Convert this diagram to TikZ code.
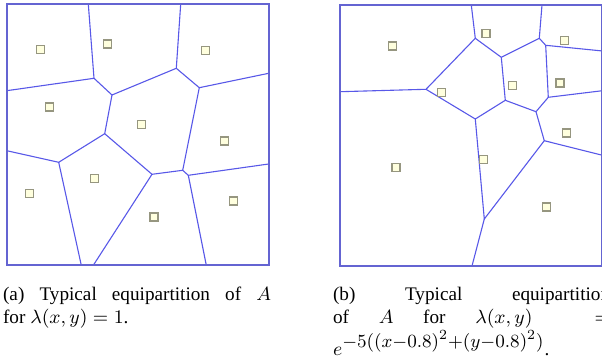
\RequirePackage{fix-cm}
\documentclass[tikz,border=0pt]{standalone}
\usepackage{amsmath}
\usepackage{fontspec}
\setmainfont{Liberation Serif}
\DeclareMathSizes{9.6}{9.6}{9.3}{7}
\definecolor{edgeBlue}{RGB}{88,88,232}
\definecolor{frameBlue}{RGB}{100,100,210}
\definecolor{siteFill}{RGB}{255,255,222}
\definecolor{siteLine}{RGB}{150,150,128}
\tikzset{
  frame/.style={draw=frameBlue, line width=1pt},
  cell/.style={draw=edgeBlue, line width=0.55pt},
  site/.style={rectangle, draw=siteLine, fill=siteFill, line width=0.6pt, minimum size=4pt, inner sep=0pt},
  capt/.style={align=justify, inner sep=0pt, anchor=base west, font=\fontsize{9.6}{11.3}\selectfont}
}

\begin{document}
\begin{tikzpicture}[x=0.5pt, y=-0.5pt]
  \useasboundingbox (0,0) rectangle (602,358);

  % (a) uniform density
  \coordinate (at1) at (88.3,4);   \coordinate (at2) at (180.7,4);
  \coordinate (al1) at (6.7,90.7); \coordinate (al2) at (6.7,150.7);
  \coordinate (ar1) at (268.7,73.3); \coordinate (ar2) at (268.7,164);
  \coordinate (ab1) at (81.3,265.3); \coordinate (ab2) at (93.3,265.3); \coordinate (ab3) at (206.3,265.3);
  \coordinate (a1) at (94,78.3);    \coordinate (a2) at (112,95);
  \coordinate (a3) at (176.3,68.3); \coordinate (a4) at (199.3,87.7);
  \coordinate (a5) at (104.7,133.7); \coordinate (a6) at (58.7,162.3);
  \coordinate (a7) at (152,174.3);  \coordinate (a8) at (182.7,170.3);
  \coordinate (a9) at (188.3,175.3);
  \draw[cell] (at1) -- (a1) -- (al1);
  \draw[cell] (a1) -- (a2) -- (a3) -- (at2);
  \draw[cell] (a3) -- (a4) -- (ar1);
  \draw[cell] (a2) -- (a5) -- (a6) -- (al2);
  \draw[cell] (a6) -- (ab1);
  \draw[cell] (a5) -- (a7) -- (a8) -- (a9) -- (ar2);
  \draw[cell] (a4) -- (a8);
  \draw[cell] (a7) -- (ab2);
  \draw[cell] (a9) -- (ab3);
  \draw[frame] (6.7,4) rectangle (268.7,265.3);
  \foreach \x/\y [count=\i] in {40.7/49.3, 107.7/44, 205.7/50.3, 49.3/107, 141.3/124.3,
      224.3/141, 94.7/178.3, 29.3/193.3, 154/217, 233.3/201}
    \node[site] (sa\i) at (\x,\y) {};

  % (b) density peaked at (0.8,0.8)
  \coordinate (bt1) at (471.3,5);  \coordinate (bt2) at (542,5);
  \coordinate (bl1) at (340.3,91.7);
  \coordinate (br1) at (602.5,51); \coordinate (br2) at (602.5,90.7); \coordinate (br3) at (602.5,155.3);
  \coordinate (bb1) at (472,266);
  \coordinate (b1) at (475.3,38.3); \coordinate (b2) at (539.3,38.3);
  \coordinate (b3) at (501.3,57.3); \coordinate (b4) at (545.7,45.3);
  \coordinate (b5) at (426,89.3);   \coordinate (b6) at (475.3,119);
  \coordinate (b7) at (505.3,100.3); \coordinate (b8) at (548.3,97.3);
  \coordinate (b9) at (536,111.7);  \coordinate (b10) at (544.3,140.7);
  \coordinate (b11) at (484.3,219);
  \draw[cell] (bt1) -- (b1) -- (b3) -- (b2) -- (bt2);
  \draw[cell] (b2) -- (b4) -- (br1);
  \draw[cell] (b1) -- (b5) -- (bl1);
  \draw[cell] (b5) -- (b6) -- (b7) -- (b3);
  \draw[cell] (b7) -- (b9) -- (b8) -- (b4);
  \draw[cell] (b8) -- (br2);
  \draw[cell] (b9) -- (b10) -- (br3);
  \draw[cell] (b10) -- (b11) -- (b6);
  \draw[cell] (b11) -- (bb1);
  \draw[frame] (340.3,5) rectangle (602.5,266);
  \foreach \x/\y [count=\i] in {392.3/46, 486/33.7, 564.7/40.7, 441.3/92.7, 512.3/85.7,
      560/83, 566.3/133, 396/167.3, 483.3/159.7, 546.3/207}
    \node[site] (sb\i) at (\x,\y) {};

  % captions
  \node[capt, text width=134pt] (capA) at (2.7,300.7) {(a) Typical equipartition of $A$\linebreak for $\lambda(x,y) = 1$.};
  \node[capt, text width=138.5pt] (capB) at (332.7,300.7) {(b) Typical equipartition\linebreak of $A$ for $\lambda(x,y) =\penalty-10000 e^{-5((x-0.8)^2+(y-0.8)^2)}$.};
\end{tikzpicture}
\end{document}
